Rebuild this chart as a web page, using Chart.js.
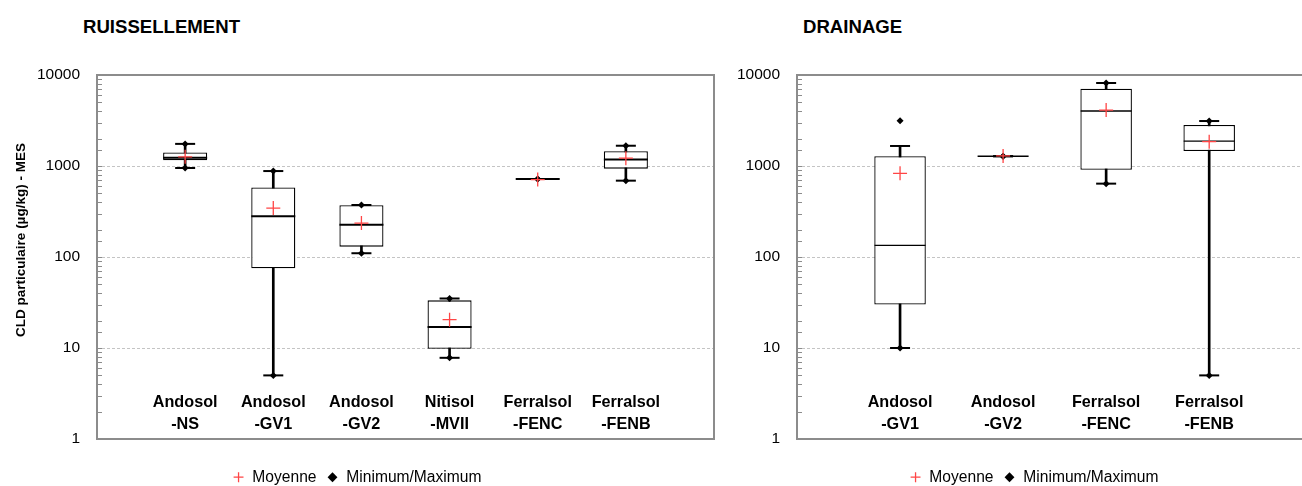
<!DOCTYPE html>
<html>
<head>
<meta charset="utf-8">
<script src="https://cdn.jsdelivr.net/npm/chart.js@4.4.1/dist/chart.umd.min.js"></script>
<style>
  html, body { margin: 0; padding: 0; background: #fff; overflow: hidden; }
  #wrap { position: relative; width: 1302px; height: 486px; overflow: hidden; }
  canvas { position: absolute; top: 0; }
  .ttl { position: absolute; font-weight: bold; color: #000; line-height: 1; white-space: nowrap; }
</style>
</head>
<body>
<div id="wrap">
  <div class="ttl" id="t1">RUISSELLEMENT</div>
  <div class="ttl" id="t2">DRAINAGE</div>
  <canvas id="c1" width="730" height="495" style="left:0"></canvas>
  <canvas id="c2" width="608" height="495" style="left:730px"></canvas>
</div>
<script>
// RUISSELLEMENT
const ruisCats = [['Andosol', '-NS'], ['Andosol', '-GV1'], ['Andosol', '-GV2'], ['Nitisol', '-MVII'], ['Ferralsol', '-FENC'], ['Ferralsol', '-FENB']]
const ruisMin = [950, 5, 110, 7.8, 720, 690]
const ruisQ1 = [1160, 75, 130, 9.8, 720, 935]
const ruisMed = [1230, 280, 226, 17, 720, 1180]
const ruisQ3 = [1410, 580, 370, 33.4, 720, 1450]
const ruisMax = [1750, 880, 373, 35, 720, 1670]
const ruisWhiskLo = [950, 5, 110, 7.8, 720, 690]
const ruisWhiskHi = [1750, 880, 373, 35, 720, 1670]
const ruisMean = [1260, 345, 236, 20.5, 710, 1220]

// DRAINAGE
const drainCats = [['Andosol', '-GV1'], ['Andosol', '-GV2'], ['Ferralsol', '-FENC'], ['Ferralsol', '-FENB']]
const drainMin = [10, 1280, 640, 5]
const drainQ1 = [30, 1280, 910, 1460]
const drainMed = [134, 1280, 4020, 1880]
const drainQ3 = [1280, 1280, 7080, 2820]
const drainMax = [3150, 1280, 8170, 3120]
const drainWhiskLo = [10, 1280, 640, 5]
const drainWhiskHi = [1660, 1280, 8170, 3120]
const drainMean = [830, 1290, 4120, 1850]

const yTicks = [1, 10, 100, 1000, 10000]
const yTitle = 'CLD particulaire (µg/kg) - MES'

// font: Arial Narrow look if the narrow face exists, else plain sans scaled down
const probe = document.createElement('canvas').getContext('2d')
const widthOf = f => { probe.font = f; return probe.measureText('Minimum/Maximum 10000').width }
const hasNarrow = widthOf("20px 'Liberation Sans Narrow', monospace") !== widthOf('20px monospace')
const FONT = hasNarrow ? "'Liberation Sans Narrow', 'Liberation Sans', sans-serif" : "'Liberation Sans', Arial, sans-serif"
const K = hasNarrow ? 1 / 0.82 : 1
const fs = {title: 18.6 * K, tick: 15.5 * K, yTitle: 13.5 * K, cat: 16.2 * K, legend: 15.6 * K}

Chart.defaults.font.family = FONT
Chart.defaults.color = '#000'

const H = 495
const plotBottom = 439
const legendPad = 10
const xGap = H - (fs.legend + legendPad + 10) - plotBottom

const setTitle = (id, left) => {
  const el = document.getElementById(id)
  el.style.fontFamily = FONT
  el.style.fontSize = fs.title + 'px'
  el.style.left = left + 'px'
  el.style.top = (26.7 - 0.452 * fs.title) + 'px'
}
setTitle('t1', 83)
setTitle('t2', 803)

const isDecade = v => yTicks.includes(v)

const boxFrame = {
  id: 'boxFrame',
  beforeDatasetsDraw(chart) {
    const {ctx, chartArea: a, scales: {y}} = chart
    ctx.save()
    ctx.strokeStyle = '#8c8c8c'
    ctx.lineWidth = 1
    // small minor marks inside the axis
    y.ticks.forEach(t => {
      const py = Math.round(y.getPixelForValue(t.value)) + 0.5
      ctx.beginPath()
      ctx.moveTo(a.left, py)
      ctx.lineTo(a.left + 5, py)
      ctx.stroke()
    })
    ctx.restore()
  },
  afterDatasetsDraw(chart, args, opts) {
    const {ctx, chartArea: a, scales: {x}} = chart
    ctx.save()
    ctx.strokeStyle = '#8c8c8c'
    ctx.lineWidth = 2
    ctx.strokeRect(a.left, a.top, a.right - a.left, a.bottom - a.top)
    ctx.fillStyle = '#000'
    ctx.font = 'bold ' + fs.cat + 'px ' + FONT
    ctx.textAlign = 'center'
    ctx.textBaseline = 'middle'
    opts.cats.forEach((lines, i) => {
      const px = x.getPixelForValue(i + 1)
      lines.forEach((t, j) => ctx.fillText(t, px, a.bottom - 36 + j * 22))
    })
    if (opts.yTitle) {
      // axis title sits a bit above the plot middle, like the original
      ctx.translate(21, (a.top + a.bottom) / 2 - 17)
      ctx.rotate(-Math.PI / 2)
      ctx.font = 'bold ' + fs.yTitle + 'px ' + FONT
      ctx.fillText(opts.yTitle, 0, 0)
    }
    ctx.restore()
  }
}

const boxDatasets = (lo, q1, med, q3, hi, mins, maxs, means, medRadius, medWidth) => {
  const pts = arr => arr.map((y, i) => ({x: i + 1, y}))
  return [
    {type: 'scatter', label: 'Moyenne', order: 1, data: pts(means),
      pointStyle: 'cross', pointRadius: 7, pointBorderColor: '#ff4545', pointBackgroundColor: '#ff4545', pointBorderWidth: 1.3},
    {type: 'scatter', label: 'Minimum/Maximum', order: 2, data: pts(mins).concat(pts(maxs)),
      pointStyle: 'rectRot', pointRadius: 3.5, pointBorderColor: '#000', pointBackgroundColor: '#000', pointBorderWidth: 0},
    {type: 'scatter', order: 3, data: pts(med),
      pointStyle: 'line', pointRadius: medRadius, pointBorderColor: '#000', pointBorderWidth: medWidth},
    {type: 'scatter', order: 4, data: pts(lo).concat(pts(hi)),
      pointStyle: 'line', pointRadius: 10, pointBorderColor: '#000', pointBorderWidth: 2},
    {type: 'bar', order: 5, data: q1.map((v, i) => ({x: i + 1, y: [v, q3[i]]})),
      backgroundColor: '#fff', borderColor: '#000', borderWidth: 1.3, borderSkipped: false,
      barPercentage: 0.5, categoryPercentage: 1, grouped: false},
    {type: 'bar', order: 6, data: lo.map((v, i) => ({x: i + 1, y: [v, hi[i]]})),
      backgroundColor: '#000', barThickness: 2, grouped: false}
  ]
}

const makeChart = (id, {datasets, cats, xMax, yWidth, padRight, title}) => new Chart(document.getElementById(id), {
  type: 'bar',
  data: {datasets},
  options: {
    responsive: false,
    animation: false,
    events: [],
    layout: {autoPadding: false, padding: {top: 75, right: padRight, left: 0, bottom: 0}},
    scales: {
      x: {
        type: 'linear', min: 0, max: xMax, offset: false,
        grid: {display: false}, border: {display: false},
        ticks: {display: false, stepSize: 1, includeBounds: false},
        afterFit: s => { s.height = xGap }
      },
      y: {
        type: 'logarithmic', min: 1, max: 10000,
        afterFit: s => { s.width = yWidth },
        border: {display: false, dash: [3, 2]},
        grid: {
          drawTicks: false, lineWidth: 1,
          color: c => c.tick && isDecade(c.tick.value) ? '#c4c4c4' : 'rgba(0,0,0,0)'
        },
        ticks: {
          autoSkip: false, padding: 17, font: {size: fs.tick},
          callback: v => isDecade(v) ? String(v) : ''
        }
      }
    },
    plugins: {
      tooltip: {enabled: false},
      legend: {
        position: 'bottom',
        labels: {
          usePointStyle: true, boxWidth: 12, boxHeight: 7, padding: legendPad,
          font: {size: fs.legend},
          filter: item => !!item.text
        }
      },
      boxFrame: {cats, yTitle: title}
    }
  },
  plugins: [boxFrame]
})

makeChart('c1', {
  datasets: boxDatasets(ruisWhiskLo, ruisQ1, ruisMed, ruisQ3, ruisWhiskHi, ruisMin, ruisMax, ruisMean, 22, 2),
  cats: ruisCats, xMax: 7, yWidth: 97, padRight: 16, title: yTitle
})

makeChart('c2', {
  datasets: boxDatasets(drainWhiskLo, drainQ1, drainMed, drainQ3, drainWhiskHi, drainMin, drainMax, drainMean, 25.5, 1.3),
  cats: drainCats, xMax: 5.25, yWidth: 67, padRight: 0, title: null
})
</script>
</body>
</html>
